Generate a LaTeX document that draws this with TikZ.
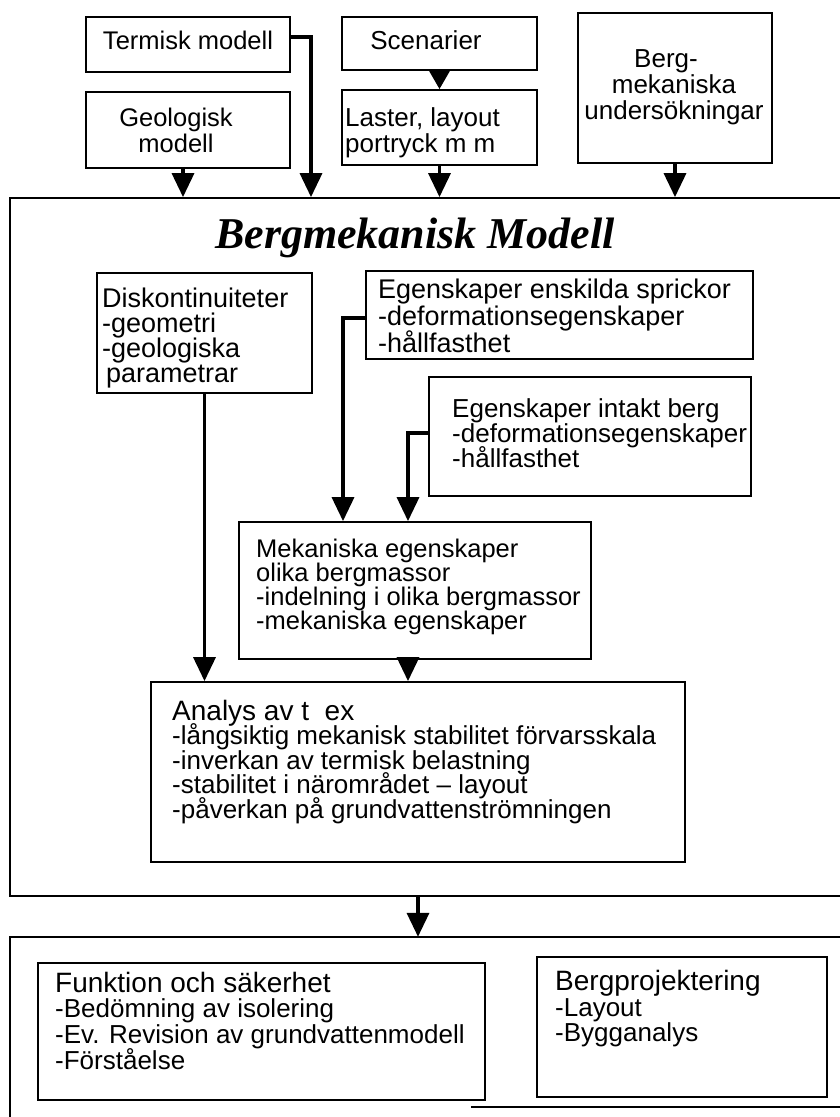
\documentclass[tikz,border=0pt]{standalone}
\usepackage{fontspec}
\setmainfont{Liberation Sans}
\newfontfamily\titlefont{Liberation Serif}
\usetikzlibrary{arrows.meta}
\newcommand\mylines[6]{% name, style, x, y, spacing, list
  \foreach \t [count=\i] in {#6} {
    \node[#2] (#1\i) at (#3, {#4+(\i-1)*#5}) {\t};
  }
}
\begin{document}
\begin{tikzpicture}[x=1pt,y=-1pt,
  box/.style={draw, line width=1.8pt, inner sep=0pt},
  arr/.style={line width=3.5pt, -{Triangle[width=22pt,length=24pt]}},
  lnl/.style={anchor=base west, inner sep=0pt},
  lnc/.style={anchor=base, inner sep=0pt},
  fs/.style={font={\fontsize{#1}{#1}\selectfont}}
]
\useasboundingbox (0,0) rectangle (840,1117);
\clip (0,0) rectangle (840,1117);
% boxes
\node[box, minimum width=204pt, minimum height=55pt] (term) at (188,44.5) {};
\node[box, minimum width=204pt, minimum height=76pt] (geo) at (188,130) {};
\node[box, minimum width=195pt, minimum height=53pt] (scen) at (439.5,43.5) {};
\node[box, minimum width=195pt, minimum height=75pt] (last) at (439.5,127.5) {};
\node[box, minimum width=194pt, minimum height=150pt] (bmu) at (675,88) {};
\node[box, minimum width=840pt, minimum height=698pt] (big) at (430,547) {};
\node[box, minimum width=215pt, minimum height=120pt] (disk) at (204.5,333) {};
\node[box, minimum width=387pt, minimum height=88pt] (ees) at (559.5,315) {};
\node[box, minimum width=322pt, minimum height=119pt] (eib) at (590,436.5) {};
\node[box, minimum width=352pt, minimum height=137pt] (mek) at (415,590.5) {};
\node[box, minimum width=534pt, minimum height=180pt] (ana) at (418,772) {};
\node[inner sep=0pt, minimum width=840pt, minimum height=170pt] (out) at (430,1022) {};
\draw[line width=1.8pt] (out.north east) -- (out.north west) -- ([yshift=-20pt]out.south west);
\draw[line width=1.8pt] (471,0 |- out.south) -- (out.south east);
\node[box, minimum width=447pt, minimum height=137pt] (fun) at (261.5,1031.5) {};
\node[box, minimum width=290pt, minimum height=140pt] (bpr) at (682,1027) {};
% title
\node[anchor=base, inner sep=0pt, font={\titlefont\bfseries\itshape\fontsize{44}{44}\selectfont}] (title) at (415,248) {Bergmekanisk Modell};
% texts
\mylines{termt}{lnc,fs=25.5}{188}{49}{27}{Termisk modell}
\mylines{geot}{lnc,fs=25.5}{176}{126}{26}{Geologisk, modell}
\mylines{scent}{lnc,fs=26}{426}{49}{27}{Scenarier}
\mylines{lastt}{lnl,fs=26}{345}{126}{26}{{Laster, layout}, portryck m m}
\mylines{bmuh}{lnc,fs=26}{666}{67}{26}{Berg-}
\mylines{bmut}{lnc,fs=26}{674}{93}{26}{mekaniska, undersökningar}
\mylines{diskt}{lnl,fs=27}{102}{307}{25}{Diskontinuiteter, -geometri, -geologiska, \hspace{4pt}parametrar}
\mylines{eest}{lnl,fs=27}{378}{298}{27}{Egenskaper enskilda sprickor, -deformationsegenskaper, -hållfasthet}
\mylines{eibt}{lnl,fs=26}{452}{417}{25}{Egenskaper intakt berg, -deformationsegenskaper, -hållfasthet}
\mylines{mekt}{lnl,fs=25.5}{256}{557}{24}{Mekaniska egenskaper, olika bergmassor, -indelning i olika bergmassor, -mekaniska egenskaper}
\mylines{anah}{lnl,fs=28}{172}{720}{24.5}{Analys av t\ \ ex}
\mylines{anat}{lnl,fs=26}{172}{744.5}{24.5}{-långsiktig mekanisk stabilitet förvarsskala, -inverkan av termisk belastning, -stabilitet i närområdet – layout, -påverkan på grundvattenströmningen}
\mylines{funh}{lnl,fs=28}{55}{992}{26}{Funktion och säkerhet}
\mylines{funt}{lnl,fs=26}{55}{1017}{26}{-Bedömning av isolering, -Ev. Revision av grundvattenmodell, -Förståelse}
\mylines{bprh}{lnl,fs=28}{555}{990}{26}{Bergprojektering}
\mylines{bprt}{lnl,fs=26}{555}{1016}{25}{-Layout, -Bygganalys}
% connectors
\draw[arr] ([xshift=-5pt]geo.south) -- ([xshift=-5pt]geo.south |- big.north);
\draw[arr] (term.east |- 0,37) -| (311,0 |- big.north);
\draw[arr, -{Triangle[width=22pt,length=20pt]}] (scen.south) -- (last.north);
\draw[arr] (last.south) -- (last.south |- big.north);
\draw[arr] (bmu.south) -- (bmu.south |- big.north);
\draw[arr] (disk.south) -- (disk.south |- ana.north);
\draw[arr] (ees.west |- 0,318) -| (343,0 |- mek.north);
\draw[arr] (eib.west |- 0,433) -| (408,0 |- mek.north);
\draw[arr] (408,0 |- mek.south) -- (408,0 |- ana.north);
\draw[arr] (418,0 |- big.south) -- (418,0 |- out.north);
\end{tikzpicture}
\end{document}
